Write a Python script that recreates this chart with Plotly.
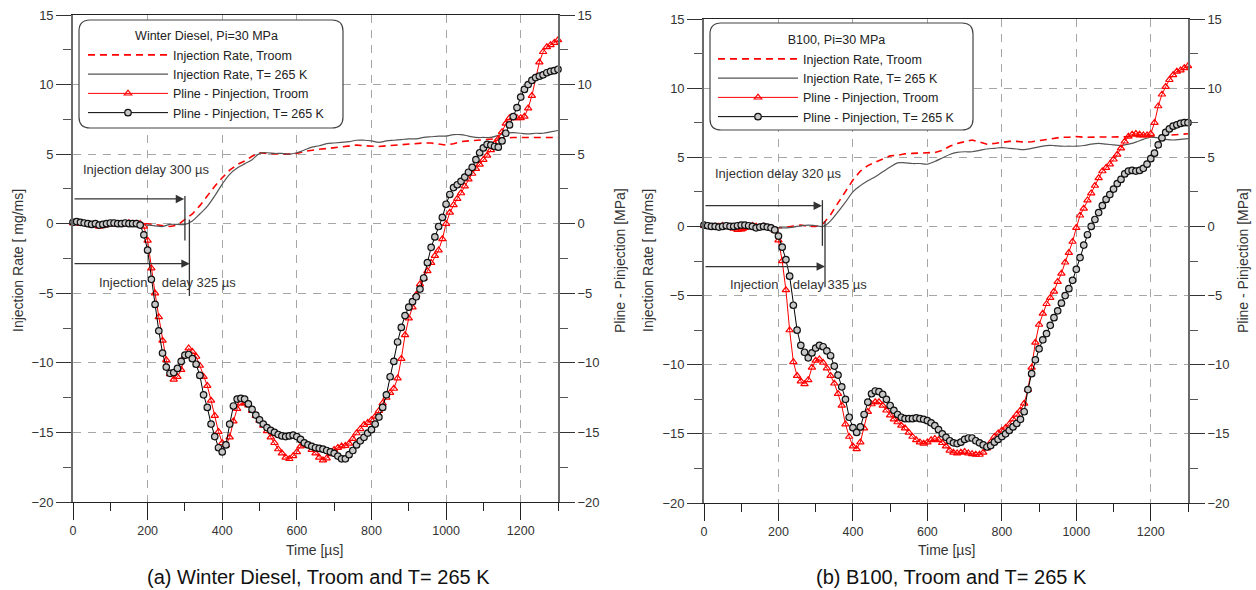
import plotly.graph_objects as go

# ---------------- data ----------------
t_pressure = list(range(0, 1301, 10))   # µs, Pline - Pinjection samples
t_rate = list(range(0, 1301, 20))       # µs, injection-rate samples

# (a) Winter Diesel
wd_rate_troom = [
    0.0, 0.05, 0.0, -0.05, -0.1, -0.15, -0.2, -0.15, -0.05, 0.0,
    0.0, -0.05, -0.15, -0.2, -0.1, 0.3, 0.7, 1.3, 2.0, 2.7,
    3.3, 3.85, 4.25, 4.5, 4.85, 5.1, 5.05, 5.0, 5.0, 5.0,
    5.05, 5.2, 5.3, 5.35, 5.4, 5.45, 5.5, 5.6, 5.65, 5.6,
    5.55, 5.55, 5.6, 5.65, 5.65, 5.7, 5.75, 5.8, 5.8, 5.75,
    5.65, 5.75, 5.9, 5.95, 6.0, 6.05, 6.1, 6.15, 6.15, 6.2,
    6.2, 6.2, 6.15, 6.2, 6.2, 6.2]
wd_rate_265 = [
    0.0, 0.0, -0.05, -0.15, -0.3, -0.2, -0.1, 0.0, 0.0, -0.05,
    -0.1, -0.15, -0.2, -0.05, -0.05, -0.05, 0.2, 0.7, 1.25, 2.0,
    2.85, 3.55, 4.0, 4.3, 4.6, 5.05, 5.1, 5.05, 5.05, 5.0,
    5.1, 5.3, 5.5, 5.6, 5.75, 5.8, 5.85, 5.9, 6.0, 6.0,
    5.95, 5.85, 5.95, 6.0, 6.05, 6.1, 6.1, 6.2, 6.25, 6.3,
    6.3, 6.4, 6.4, 6.3, 6.2, 6.2, 6.2, 6.35, 6.5, 6.55,
    6.5, 6.45, 6.5, 6.5, 6.6, 6.7]
wd_dp_troom = [
    0.05, 0.1, 0.0, 0.0, -0.05, -0.1, -0.1, -0.2, -0.15, -0.05,
    0.0, 0.0, -0.05, -0.05, 0.0, 0.05, 0.0, 0.0, 0.0, -0.2,
    -1.2, -3.2, -5.0, -6.7, -8.4, -9.8, -10.8, -11.2, -11.0, -10.5,
    -9.5, -8.95, -9.2, -9.55, -10.2, -11.0, -11.65, -12.7, -13.8, -14.95,
    -15.75, -15.9, -15.35, -14.2, -13.3, -12.9, -12.9, -13.05, -13.45, -13.8,
    -14.15, -14.5, -14.9, -15.35, -15.75, -16.2, -16.5, -16.8, -16.9, -16.7,
    -16.4, -16.0, -15.85, -15.95, -16.25, -16.5, -16.8, -17.0, -16.85, -16.55,
    -16.25, -16.1, -16.0, -15.95, -15.8, -15.45, -15.05, -14.75, -14.45, -14.3,
    -14.1, -13.85, -13.45, -12.9, -12.5, -12.15, -11.85, -11.1, -9.7, -8.0,
    -6.8, -6.0, -5.1, -4.35, -3.9, -3.4, -2.8, -2.3, -1.9, -1.1,
    0.0, 0.8, 1.35, 1.8, 2.2, 2.7, 3.2, 3.6, 3.95, 4.25,
    4.6, 4.9, 5.3, 5.75, 6.1, 6.6, 7.2, 7.6, 7.6, 7.6,
    7.6, 7.7, 8.3, 9.2, 10.5, 11.6, 12.35, 12.7, 12.85, 13.0,
    13.2]
wd_dp_265 = [
    0.1, 0.15, 0.1, 0.05, 0.0, -0.05, 0.0, -0.1, -0.05, 0.0,
    0.05, 0.05, 0.0, 0.0, 0.05, 0.0, 0.0, 0.0, -0.1, -0.8,
    -1.9, -4.0, -5.8, -7.7, -9.3, -10.3, -10.75, -10.7, -10.4, -9.9,
    -9.45, -9.4, -9.7, -10.1, -10.9, -12.3, -13.2, -14.4, -15.3, -16.1,
    -16.4, -15.9, -14.4, -13.1, -12.6, -12.55, -12.6, -12.95, -13.35, -13.75,
    -14.1, -14.4, -14.65, -14.85, -15.0, -15.15, -15.25, -15.3, -15.25, -15.2,
    -15.3, -15.5, -15.75, -15.9, -16.0, -16.1, -16.15, -16.2, -16.3, -16.4,
    -16.5, -16.7, -16.9, -16.9, -16.6, -16.3, -15.9, -15.6, -15.35, -15.05,
    -14.8, -14.4, -13.9, -13.2, -12.3, -11.0, -9.9, -8.5, -7.45, -6.6,
    -6.0, -5.6, -5.25, -4.7, -3.9, -2.8, -1.7, -0.95, -0.2, 0.45,
    1.4, 2.1, 2.6, 2.8, 3.05, 3.35, 3.7, 4.05, 4.6, 5.1,
    5.45, 5.7, 5.65, 5.55, 5.5, 5.95, 6.5, 7.1, 7.7, 8.35,
    9.1, 9.65, 10.0, 10.3, 10.5, 10.6, 10.7, 10.85, 10.95, 11.0,
    11.1]

# (b) B100
b_rate_troom = [
    0.0, 0.0, 0.0, -0.1, -0.2, -0.3, -0.25, -0.1, 0.0, -0.05,
    -0.1, -0.05, 0.05, 0.1, 0.0, 0.0, 0.2, 0.85, 1.7, 2.55,
    3.35, 4.0, 4.4, 4.65, 4.9, 5.1, 5.15, 5.25, 5.28, 5.3,
    5.3, 5.35, 5.5, 5.8, 6.0, 6.15, 6.25, 6.1, 5.95, 6.0,
    6.1, 6.15, 6.15, 6.1, 6.12, 6.2, 6.3, 6.4, 6.45, 6.45,
    6.5, 6.45, 6.45, 6.45, 6.45, 6.45, 6.45, 6.45, 6.5, 6.5,
    6.5, 6.55, 6.6, 6.65, 6.7, 6.7]
b_rate_265 = [
    0.0, 0.0, -0.05, -0.15, -0.2, -0.1, 0.0, 0.05, 0.0, -0.05,
    -0.1, -0.1, -0.05, 0.05, 0.1, 0.05, 0.0, 0.4, 1.05, 1.75,
    2.5, 2.95, 3.3, 3.6, 3.95, 4.3, 4.6, 4.6, 4.55, 4.55,
    4.5, 4.7, 4.95, 5.2, 5.35, 5.4, 5.4, 5.5, 5.6, 5.65,
    5.7, 5.65, 5.6, 5.55, 5.65, 5.75, 5.85, 5.85, 5.8, 5.8,
    5.8, 5.85, 5.95, 6.0, 5.95, 5.9, 5.85, 5.95, 6.1, 6.3,
    6.45, 6.4, 6.3, 6.25, 6.3, 6.35]
b_dp_troom = [
    0.05, 0.0, -0.05, 0.0, 0.0, 0.05, 0.0, -0.05, -0.15, -0.25,
    -0.2, -0.1, 0.0, 0.05, 0.0, -0.05, 0.0, -0.1, -0.1, -0.3,
    -1.0, -2.5, -4.6, -7.5, -9.8, -10.8, -11.2, -11.4, -11.1, -10.2,
    -9.7, -9.6, -9.85, -10.25, -10.8, -11.35, -12.1, -12.95, -14.3, -15.2,
    -15.9, -16.1, -15.6, -14.6, -13.4, -12.85, -12.7, -12.7, -12.95, -13.3,
    -13.65, -13.95, -14.15, -14.4, -14.6, -14.9, -15.2, -15.45, -15.6, -15.7,
    -15.6, -15.45, -15.35, -15.45, -15.65, -15.9, -16.2, -16.35, -16.4, -16.35,
    -16.3, -16.4, -16.45, -16.5, -16.5, -16.35, -16.05, -15.6, -15.2, -14.95,
    -14.75, -14.55, -14.3, -13.95, -13.6, -13.3, -12.8, -11.8, -10.2, -8.4,
    -7.1, -6.3, -5.6, -5.15, -4.7, -4.0, -3.4, -2.6, -1.9, -1.1,
    -0.1, 0.8, 1.3, 1.9, 2.4, 2.95, 3.5, 4.0, 4.25, 4.5,
    4.85, 5.2, 5.65, 6.15, 6.5, 6.65, 6.7, 6.65, 6.6, 6.6,
    6.7, 7.5, 8.7, 9.55, 10.1, 10.6, 10.95, 11.2, 11.3, 11.45,
    11.6]
b_dp_265 = [
    0.1, 0.05, 0.0, 0.0, -0.05, 0.0, 0.05, 0.0, 0.0, 0.05,
    0.1, 0.1, 0.05, 0.0, -0.1, -0.05, 0.0, -0.05, -0.1, -0.25,
    -0.7, -1.5, -2.4, -3.6, -5.7, -7.5, -8.6, -9.1, -9.5, -9.15,
    -8.8, -8.6, -8.7, -9.0, -9.35, -10.1, -10.75, -11.6, -12.5, -13.8,
    -14.55, -14.9, -14.5, -13.6, -12.7, -12.1, -11.9, -11.95, -12.15, -12.5,
    -12.95, -13.3, -13.6, -13.8, -13.9, -13.9, -13.9, -13.85, -13.9, -13.95,
    -14.05, -14.2, -14.4, -14.7, -15.0, -15.25, -15.5, -15.65, -15.7, -15.6,
    -15.4, -15.3, -15.3, -15.5, -15.65, -15.8, -15.95, -15.85, -15.6, -15.4,
    -15.2, -15.0, -14.75, -14.5, -14.25, -13.95, -13.4, -11.8, -10.65, -9.65,
    -8.85, -8.2, -7.75, -7.15, -6.6, -6.1, -5.55, -5.0, -4.5, -3.9,
    -3.1, -2.25, -1.35, -0.6, 0.0, 0.5, 1.0, 1.5, 1.95, 2.3,
    2.7, 3.1, 3.4, 3.8, 4.0, 4.05, 4.0, 4.05, 4.2, 4.5,
    4.9, 5.3, 5.9, 6.4, 6.8, 7.05, 7.25, 7.35, 7.45, 7.5,
    7.5]

for arr in (wd_rate_troom, wd_rate_265, b_rate_troom, b_rate_265):
    assert len(arr) == len(t_rate), len(arr)
for arr in (wd_dp_troom, wd_dp_265, b_dp_troom, b_dp_265):
    assert len(arr) == len(t_pressure), len(arr)

series_names = ["Injection Rate, Troom", "Injection Rate, T= 265 K",
                "Pline - Pinjection, Troom", "Pline - Pinjection, T= 265 K"]
panel_titles = ["Winter Diesel, Pi=30 MPa", "B100, Pi=30 MPa"]
captions = ["(a) Winter Diesel, Troom and T= 265 K", "(b) B100, Troom and T= 265 K"]
GAP = "\u00a0" * 4
delay_labels = [["Injection delay 300 µs", "Injection" + GAP + "delay 325 µs"],
                ["Injection delay 320 µs", "Injection" + GAP + "delay 335 µs"]]
# arrow end / marker-line positions (µs) as drawn in the figure
delay_arrow_x = [[298, 313], [317, 325]]
delay_line_x = [[300, 312], [318, 325]]

FONT = "Liberation Sans, Arial, sans-serif"
RED = "#ff0000"
GRAY = "#555555"
TXT = "#333333"

fig = go.Figure()

panels = [
    dict(data=(wd_rate_troom, wd_rate_265, wd_dp_troom, wd_dp_265), xa="x", ya="y", ya2="y2", leg="legend"),
    dict(data=(b_rate_troom, b_rate_265, b_dp_troom, b_dp_265), xa="x2", ya="y3", ya2="y4", leg="legend2"),
]

for p in panels:
    r_troom, r_265, d_troom, d_265 = p["data"]
    fig.add_trace(go.Scatter(x=t_rate, y=r_troom, mode="lines", name=series_names[0],
                             line=dict(color=RED, width=1.6, dash="7px,5px"),
                             xaxis=p["xa"], yaxis=p["ya"], legend=p["leg"], cliponaxis=False))
    fig.add_trace(go.Scatter(x=t_rate, y=r_265, mode="lines", name=series_names[1],
                             line=dict(color=GRAY, width=1.2, shape="spline"),
                             xaxis=p["xa"], yaxis=p["ya"], legend=p["leg"], cliponaxis=False))
    fig.add_trace(go.Scatter(x=t_pressure, y=d_troom, mode="lines+markers", name=series_names[2],
                             line=dict(color=RED, width=1),
                             marker=dict(symbol="triangle-up-open", size=6.5, color=RED, line=dict(width=1.2, color=RED)),
                             xaxis=p["xa"], yaxis=p["ya2"], legend=p["leg"], cliponaxis=False))
    fig.add_trace(go.Scatter(x=t_pressure, y=d_265, mode="lines+markers", name=series_names[3],
                             line=dict(color="#000000", width=1),
                             marker=dict(symbol="circle", size=6.5, color="#c8c8c8", line=dict(width=1.2, color="#111111")),
                             xaxis=p["xa"], yaxis=p["ya2"], legend=p["leg"], cliponaxis=False))

W, H = 1256, 590
xdom = [[73 / W, 558 / W], [704 / W, 1188 / W]]
ydom = [[1 - 502 / H, 1 - 15 / H], [1 - 503 / H, 1 - 19 / H]]


def xaxis_cfg(i, anchor):
    return dict(domain=xdom[i], anchor=anchor, range=[0, 1300], dtick=200, tick0=0,
                ticks="outside", ticklen=17, tickwidth=1.2, tickcolor="#222",
                minor=dict(dtick=100, ticks="outside", ticklen=8, tickcolor="#222", showgrid=False),
                showgrid=True, gridcolor="#a6a6a6", griddash="8px,7px", gridwidth=1.1,
                zeroline=False, showline=True, mirror=True, linecolor="#222", linewidth=1.3,
                tickfont=dict(family=FONT, size=12.5, color=TXT), automargin=False,
                title=dict(text=""))


def yaxis_cfg(i, anchor, side="left", overlay=None):
    d = dict(domain=ydom[i], anchor=anchor, range=[-20, 15], dtick=5, tick0=0, side=side,
             ticks="outside", ticklen=15, tickwidth=1.3, tickcolor="#333",
             minor=dict(dtick=2.5, ticks="outside", ticklen=8, tickcolor="#555", showgrid=False),
             showgrid=(overlay is None), gridcolor="#a6a6a6", griddash="8px,7px", gridwidth=1.1,
             zeroline=False, showline=True, linecolor="#6a6a6a", linewidth=1.6,
             tickfont=dict(family=FONT, size=13, color=TXT), automargin=False)
    if overlay:
        d["overlaying"] = overlay
    return d


LEGFONT = dict(family=FONT, size=12.5, color="#222")
legend_common = dict(xanchor="left", yanchor="top", bgcolor="rgba(0,0,0,0)", borderwidth=0,
                     font=LEGFONT, tracegroupgap=0, itemwidth=80)

fig.update_layout(
    width=W, height=H, margin=dict(l=0, r=0, t=0, b=0),
    paper_bgcolor="white", plot_bgcolor="white",
    font=dict(family=FONT, color=TXT),
    xaxis=xaxis_cfg(0, "y"),
    yaxis=yaxis_cfg(0, "x"),
    yaxis2=yaxis_cfg(0, "x", side="right", overlay="y"),
    xaxis2=xaxis_cfg(1, "y3"),
    yaxis3=yaxis_cfg(1, "x2"),
    yaxis4=yaxis_cfg(1, "x2", side="right", overlay="y3"),
    legend=dict(legend_common, x=83 / W, y=1 - 24 / H,
                title=dict(text=panel_titles[0], side="top center", font=LEGFONT)),
    legend2=dict(legend_common, x=713 / W, y=1 - 28 / H,
                 title=dict(text=panel_titles[1], side="top center", font=LEGFONT)),
    showlegend=True,
)


def rounded_box(x0, y0, x1, y1, rpx=11):
    rx, ry = rpx / W, rpx / H
    return (f"M {x0+rx},{y1} L {x1-rx},{y1} Q {x1},{y1} {x1},{y1-ry} "
            f"L {x1},{y0+ry} Q {x1},{y0} {x1-rx},{y0} L {x0+rx},{y0} "
            f"Q {x0},{y0} {x0},{y0+ry} L {x0},{y1-ry} Q {x0},{y1} {x0+rx},{y1} Z")


boxes = [(79 / W, 1 - 128 / H, 343 / W, 1 - 20 / H), (710 / W, 1 - 130 / H, 973 / W, 1 - 23 / H)]
for b in boxes:
    fig.add_shape(type="path", path=rounded_box(*b), xref="paper", yref="paper",
                  line=dict(color="#444", width=1.2), fillcolor="white", layer="above")

# delay arrows, marker lines and labels
axes_pairs = [("x", "y"), ("x2", "y3")]
arrow_y = [[1.78, -2.87], [1.5, -2.9]]
line_span = [[(2.0, -1.2), (0.3, -5.2)], [(1.9, -1.4), (0.4, -4.4)]]
label_pos = [[(22, 3.9), (65, -4.2)], [(25, 3.8), (65, -4.2)]]
for i, (xa, ya) in enumerate(axes_pairs):
    for j in range(2):
        fig.add_annotation(x=delay_arrow_x[i][j], y=arrow_y[i][j], ax=0, ay=arrow_y[i][j],
                           xref=xa, yref=ya, axref=xa, ayref=ya, text="", showarrow=True,
                           arrowhead=2, arrowsize=1.3, arrowwidth=1.3, arrowcolor="#333")
        fig.add_shape(type="line", xref=xa, yref=ya, x0=delay_line_x[i][j], x1=delay_line_x[i][j],
                      y0=line_span[i][j][0], y1=line_span[i][j][1], line=dict(color="#333", width=1.3))
        fig.add_annotation(x=label_pos[i][j][0], y=label_pos[i][j][1], xref=xa, yref=ya,
                           text=delay_labels[i][j], showarrow=False, xanchor="left", yanchor="middle",
                           font=dict(family=FONT, size=13, color=TXT))

# axis titles and captions
ytitle_left = "Injection Rate [ mg/ms]"
ytitle_right = "Pline - Pinjection [MPa]"
xtitle = "Time [µs]"
for i, (xl, xr, xc) in enumerate([(18, 620, 314), (648, 1243, 946)]):
    yc = 1 - 261 / H
    common = dict(xref="paper", yref="paper", showarrow=False, xanchor="center", yanchor="middle")
    fig.add_annotation(x=xl / W, y=yc, text=ytitle_left, textangle=-90,
                       font=dict(family=FONT, size=14, color=TXT), **common)
    fig.add_annotation(x=xr / W, y=yc, text=ytitle_right, textangle=-90,
                       font=dict(family=FONT, size=14, color=TXT), **common)
    fig.add_annotation(x=xc / W, y=1 - 550 / H, text=xtitle,
                       font=dict(family=FONT, size=14, color=TXT), **common)
    fig.add_annotation(x=[318, 951][i] / W, y=1 - 577 / H, text=captions[i],
                       font=dict(family=FONT, size=20, color="#111"), **common)

fig.write_html("out.html", config={"displayModeBar": False})

# remove the browser's default page margin so the figure sits at the window's corner
with open("out.html", encoding="utf-8") as f:
    html = f.read()
html = html.replace("<head>", "<head><style>html,body{margin:0;padding:0;overflow:hidden;}</style>", 1)
with open("out.html", "w", encoding="utf-8") as f:
    f.write(html)
